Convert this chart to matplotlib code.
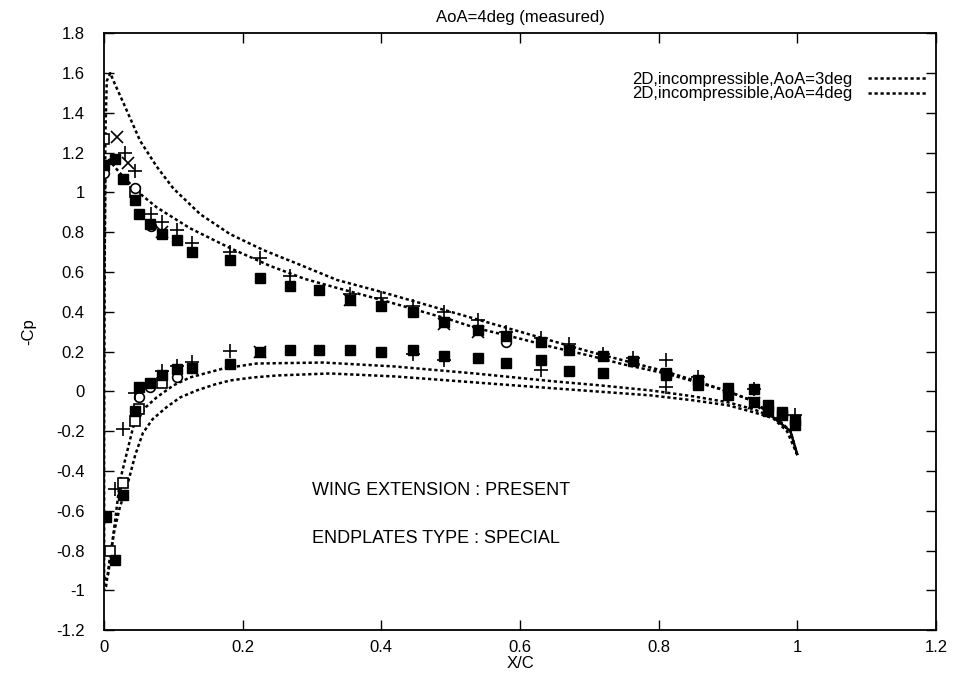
# Cp distribution, AoA = 4deg, measured vs 2D incompressible
import matplotlib
matplotlib.use('Agg')
import matplotlib.pyplot as plt
from matplotlib.ticker import FuncFormatter, MultipleLocator

plt.rcParams['font.family'] = ['Liberation Sans', 'DejaVu Sans']
plt.rcParams['axes.unicode_minus'] = False

# 2D, incompressible, AoA=3deg (upper surface TE->LE, then lower LE->TE)
x_aoa3 = [1.0, 0.99, 0.965, 0.937, 0.9, 0.856, 0.81, 0.75, 0.7, 0.65, 0.6, 0.535, 0.5,
          0.45, 0.4, 0.336, 0.29, 0.24, 0.182, 0.124, 0.076, 0.055, 0.03, 0.015, 0.006,
          0.002, 0.0,
          0.0, 0.006, 0.016, 0.023, 0.042, 0.06, 0.076, 0.1, 0.124, 0.172, 0.22, 0.316,
          0.42, 0.535, 0.65, 0.716, 0.788, 0.85, 0.9, 0.937, 0.965, 0.99, 1.0]
cp_aoa3 = [-0.32, -0.2, -0.13, -0.05, 0.0, 0.045, 0.09, 0.135, 0.18, 0.22, 0.265, 0.32, 0.36,
           0.41, 0.46, 0.52, 0.565, 0.63, 0.72, 0.82, 0.925, 0.985, 1.07, 1.13, 1.17,
           1.1, 0.3,
           -0.95, -0.92, -0.65, -0.45, -0.18, -0.08, -0.03, 0.03, 0.07, 0.115, 0.14, 0.145,
           0.125, 0.09, 0.05, 0.03, 0.005, -0.025, -0.055, -0.09, -0.13, -0.2, -0.32]

# 2D, incompressible, AoA=4deg
x_aoa4 = [1.0, 0.99, 0.975, 0.96, 0.937, 0.9, 0.856, 0.81, 0.75, 0.7, 0.65, 0.6, 0.54, 0.5,
          0.45, 0.4, 0.336, 0.28, 0.23, 0.182, 0.139, 0.1, 0.076, 0.052, 0.028, 0.015,
          0.009, 0.004, 0.002, 0.001, 0.0,
          0.0, 0.003, 0.008, 0.015, 0.023, 0.033, 0.045, 0.056, 0.07, 0.09, 0.11, 0.134,
          0.16, 0.182, 0.215, 0.25, 0.326, 0.42, 0.535, 0.65, 0.788, 0.85, 0.9, 0.937,
          0.965, 0.985, 1.0]
cp_aoa4 = [-0.32, -0.2, -0.15, -0.11, -0.05, 0.0, 0.05, 0.1, 0.155, 0.2, 0.25, 0.3, 0.36, 0.4,
           0.45, 0.5, 0.56, 0.64, 0.71, 0.79, 0.89, 1.02, 1.13, 1.26, 1.45, 1.55,
           1.6, 1.56, 1.3, 0.6, -0.3,
           -1.0, -0.98, -0.85, -0.7, -0.58, -0.48, -0.32, -0.21, -0.14, -0.08, -0.03, 0.005,
           0.035, 0.055, 0.07, 0.08, 0.09, 0.075, 0.045, 0.015, -0.02, -0.045, -0.07, -0.105,
           -0.135, -0.2, -0.32]

# measured, filled squares
x_sq = [0.0, 0.016, 0.028, 0.045, 0.05, 0.067, 0.084, 0.105, 0.127, 0.182, 0.225, 0.268,
        0.31, 0.355, 0.4, 0.446, 0.49, 0.54, 0.58, 0.63, 0.67, 0.72, 0.763, 0.81, 0.856,
        0.9, 0.937, 0.958, 0.978, 0.996,
        0.003, 0.016, 0.028, 0.045, 0.05, 0.067, 0.084, 0.105, 0.127, 0.182, 0.225, 0.268,
        0.31, 0.355, 0.4, 0.446, 0.49, 0.54, 0.58, 0.63, 0.67, 0.72, 0.81, 0.856, 0.9,
        0.937, 0.958, 0.978, 0.996]
cp_sq = [1.14, 1.17, 1.07, 0.96, 0.89, 0.84, 0.79, 0.76, 0.7, 0.66, 0.57, 0.53,
         0.51, 0.46, 0.43, 0.4, 0.35, 0.31, 0.28, 0.25, 0.21, 0.18, 0.155, 0.09, 0.055,
         0.015, 0.01, -0.07, -0.105, -0.145,
         -0.63, -0.85, -0.52, -0.1, 0.02, 0.04, 0.08, 0.11, 0.12, 0.14, 0.2, 0.21,
         0.21, 0.21, 0.2, 0.21, 0.18, 0.17, 0.145, 0.16, 0.1, 0.09, 0.08, 0.03, -0.02,
         -0.055, -0.1, -0.12, -0.17]

# measured, plus
x_plus = [0.03, 0.045, 0.068, 0.084, 0.105, 0.127, 0.182, 0.225, 0.268, 0.355, 0.4, 0.446,
          0.49, 0.54, 0.58, 0.63, 0.67, 0.72, 0.763, 0.81, 0.856, 0.937, 0.996,
          0.016, 0.028, 0.045, 0.084, 0.105, 0.127, 0.182, 0.446, 0.49, 0.63, 0.81]
cp_plus = [1.2, 1.11, 0.89, 0.85, 0.81, 0.745, 0.7, 0.67, 0.58, 0.49, 0.47, 0.43,
           0.4, 0.36, 0.3, 0.27, 0.24, 0.19, 0.17, 0.16, 0.07, 0.01, -0.12,
           -0.49, -0.19, -0.01, 0.1, 0.13, 0.15, 0.205, 0.19, 0.16, 0.105, 0.02]

# measured, open squares
x_osq = [0.0, 0.045, 0.008, 0.028, 0.045, 0.05, 0.084]
cp_osq = [1.27, 1.0, -0.8, -0.46, -0.15, -0.09, 0.04]

# measured, crosses
x_cross = [0.019, 0.035, 0.084, 0.225, 0.355, 0.49, 0.54, 0.937]
cp_cross = [1.28, 1.15, 0.8, 0.2, 0.46, 0.34, 0.3, -0.06]

# measured, circles
x_circ = [0.0, 0.045, 0.068, 0.58, 0.05, 0.067, 0.105]
cp_circ = [1.1, 1.02, 0.83, 0.25, -0.03, 0.02, 0.07]

fig = plt.figure(figsize=(9.63, 6.79), dpi=100)
ax = fig.add_axes([0.108, 0.072, 0.864, 0.879])

dots = (0, (1.3, 1.1))
ax.plot(x_aoa3, cp_aoa3, color='black', lw=1.8, linestyle=dots,
        label='2D,incompressible,AoA=3deg')
ax.plot(x_aoa4, cp_aoa4, color='black', lw=1.8, linestyle=dots,
        label='2D,incompressible,AoA=4deg')

ax.plot(x_osq, cp_osq, 's', ms=7, mfc='white', mec='black', mew=1.2, ls='none')
ax.plot(x_circ, cp_circ, 'o', ms=7, mfc='white', mec='black', mew=1.2, ls='none')
ax.plot(x_sq, cp_sq, 's', ms=7, color='black', ls='none')
ax.plot(x_cross, cp_cross, 'x', ms=8, color='black', mew=1.2, ls='none')
ax.plot(x_plus, cp_plus, '+', ms=10, color='black', mew=1.2, ls='none')

ax.set_xlim(0, 1.2)
ax.set_ylim(-1.2, 1.8)
ax.xaxis.set_major_locator(MultipleLocator(0.2))
ax.yaxis.set_major_locator(MultipleLocator(0.2))
fmt = FuncFormatter(lambda v, p: f'{v:g}')
ax.xaxis.set_major_formatter(fmt)
ax.yaxis.set_major_formatter(fmt)
ax.tick_params(direction='in', top=True, right=True, length=7, width=1, labelsize=12)
ax.tick_params(axis='y', pad=14)
ax.tick_params(axis='x', pad=7)
for s in ax.spines.values():
    s.set_linewidth(1.3)

ax.set_xlabel('X/C', fontsize=12, labelpad=1)
ax.set_ylabel('-Cp', fontsize=12, labelpad=14)
ax.set_title('AoA=4deg (measured)', fontsize=12, pad=8)

ax.text(0.30, -0.5, 'WING EXTENSION : PRESENT', fontsize=13, va='center')
ax.text(0.30, -0.74, 'ENDPLATES TYPE : SPECIAL', fontsize=13, va='center')

ax.legend(loc='upper right', bbox_to_anchor=(0.99, 0.935), frameon=False, markerfirst=False,
          fontsize=12, handlelength=3.6, labelspacing=-0.04, borderpad=0, borderaxespad=0,
          handletextpad=0.9)

fig.savefig('out.png', dpi=100)
